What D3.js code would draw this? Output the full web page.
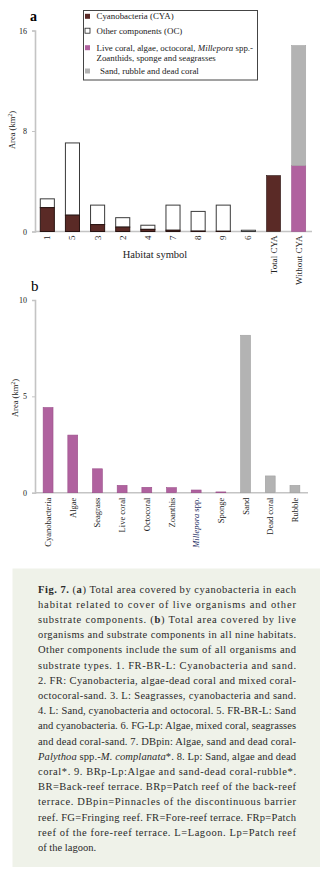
<!DOCTYPE html>
<html>
<head>
<meta charset="utf-8">
<script src="https://cdn.jsdelivr.net/npm/d3@7"></script>
<style>
  body { margin: 0; background: #fff; }
  svg { display: block; font-family: "Liberation Serif", "DejaVu Serif", serif; }
</style>
</head>
<body>
<div id="chart"></div>
<script>
// ---- data: panel a ----
const habitatLabels = ['1', '5', '3', '2', '4', '7', '8', '9', '6'];
const cyaArea = [1.9, 1.3, 0.55, 0.35, 0.17, 0.1, 0.03, 0.02, 0];
const ocArea = [0.7, 5.75, 1.55, 0.75, 0.33, 2.0, 1.57, 2.08, 0.1];
const totalCyaArea = 4.45;
const withoutCyaLive = 5.25;
const withoutCyaSand = 9.55;
const yTicksA = [0, 8, 16];

// ---- data: panel b ----
const componentNames = ['Cyanobacteria', 'Algae', 'Seagrass', 'Live coral', 'Octocoral', 'Zoanthis',
  'Millepora spp.', 'Sponge', 'Sand', 'Dead coral', 'Rubble'];
const componentArea = [4.42, 2.99, 1.24, 0.38, 0.28, 0.26, 0.14, 0.04, 8.17, 0.87, 0.38];
const componentGroup = ['live', 'live', 'live', 'live', 'live', 'live', 'live', 'live', 'sub', 'sub', 'sub'];
const yTicksB = [0, 5, 10];

const legendItems = [
  { key: 'cya', lines: ['Cyanobacteria (CYA)'] },
  { key: 'oc', lines: ['Other components (OC)'] },
  { key: 'live', lines: ['Live coral, algae, octocoral, |Millepora| spp.-', 'Zoanthids, sponge and seagrasses'] },
  { key: 'sub', lines: ['Sand, rubble and dead coral'] }
];

// caption lines; *...* italic, **...** bold
const captionLines = [
  '**Fig. 7.** (**a**) Total area covered by cyanobacteria in each',
  'habitat related to cover of live organisms and other',
  'substrate components. (**b**) Total area covered by live',
  'organisms and substrate components in all nine habitats.',
  'Other components include the sum of all organisms and',
  'substrate types. 1. FR-BR-L: Cyanobacteria and sand.',
  '2. FR: Cyanobacteria, algae-dead coral and mixed coral-',
  'octocoral-sand. 3. L: Seagrasses, cyanobacteria and sand.',
  '4. L: Sand, cyanobacteria and octocoral. 5. FR-BR-L: Sand',
  'and cyanobacteria. 6. FG-Lp: Algae, mixed coral, seagrasses',
  'and dead coral-sand. 7. DBpin: Algae, sand and dead coral-',
  '*Palythoa* spp.-*M. complanata**. 8. Lp: Sand, algae and dead',
  'coral*. 9. BRp-Lp:Algae and sand-dead coral-rubble*.',
  'BR=Back-reef terrace. BRp=Patch reef of the back-reef',
  'terrace. DBpin=Pinnacles of the discontinuous barrier',
  'reef. FG=Fringing reef. FR=Fore-reef terrace. FRp=Patch',
  'reef of the fore-reef terrace. L=Lagoon. Lp=Patch reef',
  'of the lagoon.'
];

const colors = { cya: '#5a2a26', oc: '#ffffff', live: '#b0629f', sub: '#b3b3b3' };
const axisColor = '#c4c4c4';

const W = 320, H = 873;
const svg = d3.select('#chart').append('svg').attr('width', W).attr('height', H);

// helper: y axis with light line
const drawYAxis = (g, y, ticks, x0) => {
  const ax = g.append('g')
    .attr('transform', `translate(${x0},0)`)
    .call(d3.axisLeft(y).tickValues(ticks).tickSize(3).tickPadding(5).tickFormat(d3.format('d')));
  ax.select('.domain').attr('stroke', axisColor).attr('stroke-width', 1.6);
  ax.selectAll('line').attr('stroke', axisColor);
  ax.selectAll('text').attr('font-family', '"Liberation Serif", serif').attr('font-size', 8).attr('fill', '#222');
};

// ================= panel a =================
const catsA = [...habitatLabels, 'Total CYA', 'Without CYA'];
const xA = d3.scaleBand().domain(catsA).range([34, 312]).paddingInner(0.44).paddingOuter(0.25);
const yA = d3.scaleLinear().domain([0, 16]).range([231.5, 30.5]);
const gA = svg.append('g');

gA.append('text').attr('x', 30).attr('y', 21).attr('font-size', 14).attr('font-weight', 'bold').text('a');

drawYAxis(gA, yA, yTicksA, 35);
gA.append('line').attr('x1', 35).attr('x2', 312).attr('y1', yA(0)).attr('y2', yA(0))
  .attr('stroke', axisColor).attr('stroke-width', 1.6);

// stacked habitat bars
const stackA = habitatLabels.map((h, i) => ({ cat: h, cya: cyaArea[i], oc: ocArea[i] }));
const barsA = gA.append('g').selectAll('g').data(stackA).enter().append('g');
barsA.append('rect')
  .attr('x', d => xA(d.cat)).attr('width', xA.bandwidth())
  .attr('y', d => yA(d.cya + d.oc)).attr('height', d => yA(d.cya) - yA(d.cya + d.oc))
  .attr('fill', colors.oc).attr('stroke', '#3a3a3a').attr('stroke-width', 1);
barsA.filter(d => d.cya > 0).append('rect')
  .attr('x', d => xA(d.cat)).attr('width', xA.bandwidth())
  .attr('y', d => yA(d.cya)).attr('height', d => yA(0) - yA(d.cya))
  .attr('fill', colors.cya).attr('stroke', '#2a1412').attr('stroke-width', 1);

// total CYA bar
gA.append('rect')
  .attr('x', xA('Total CYA')).attr('width', xA.bandwidth())
  .attr('y', yA(totalCyaArea)).attr('height', yA(0) - yA(totalCyaArea))
  .attr('fill', colors.cya).attr('stroke', '#2a1412').attr('stroke-width', 0.6);

// without CYA stacked bar
gA.append('rect')
  .attr('x', xA('Without CYA')).attr('width', xA.bandwidth())
  .attr('y', yA(withoutCyaLive)).attr('height', yA(0) - yA(withoutCyaLive))
  .attr('fill', colors.live).attr('stroke', '#9a4f8a').attr('stroke-width', 0.6);
gA.append('rect')
  .attr('x', xA('Without CYA')).attr('width', xA.bandwidth())
  .attr('y', yA(withoutCyaLive + withoutCyaSand)).attr('height', yA(withoutCyaLive) - yA(withoutCyaLive + withoutCyaSand))
  .attr('fill', colors.sub).attr('stroke', '#a5a5a5').attr('stroke-width', 0.6);

// x labels (rotated)
gA.append('g').selectAll('text').data(catsA).enter().append('text')
  .attr('transform', d => `translate(${xA(d) + xA.bandwidth() / 2 + 3},${yA(0) + 4}) rotate(-90)`)
  .attr('text-anchor', 'end').attr('font-size', 9).attr('fill', '#222')
  .text(d => d);

gA.append('text').attr('x', 155).attr('y', 258).attr('text-anchor', 'middle')
  .attr('font-size', 10.5).attr('fill', '#222').text('Habitat symbol');

const yLabA = gA.append('text').attr('transform', `translate(15,130) rotate(-90)`)
  .attr('text-anchor', 'middle').attr('font-size', 8.5).attr('fill', '#222');
yLabA.append('tspan').text('Area (km');
yLabA.append('tspan').attr('font-size', 6).attr('dy', -3).text('2');
yLabA.append('tspan').attr('dy', 3).text(')');

// legend
const lg = gA.append('g');
lg.append('rect').attr('x', 83.5).attr('y', 10.5).attr('width', 174).attr('height', 69.5)
  .attr('fill', '#fff').attr('stroke', '#444').attr('stroke-width', 1);
const legendRows = [16.3, 30.7, 47.7, 71];
legendItems.forEach((item, i) => {
  const cy = legendRows[i];
  lg.append('rect').attr('x', 85).attr('y', cy - 2.5).attr('width', 5).attr('height', 5)
    .attr('fill', colors[item.key])
    .attr('stroke', item.key === 'oc' ? '#222' : 'none').attr('stroke-width', 0.8);
  item.lines.forEach((ln, j) => {
    const t = lg.append('text').attr('x', item.key === 'sub' ? 100 : 96.5).attr('y', cy + 3 + j * 10)
      .attr('font-size', 8.9).attr('fill', '#222');
    ln.split('|').forEach((part, k) => {
      t.append('tspan').attr('font-style', k % 2 ? 'italic' : 'normal').text(part);
    });
  });
});

// ================= panel b =================
const xB = d3.scaleBand().domain(componentNames).range([35, 308]).paddingInner(0.6).paddingOuter(0.33);
const yB = d3.scaleLinear().domain([0, 10]).range([492.7, 300]);
const gB = svg.append('g');

gB.append('text').attr('x', 31).attr('y', 291).attr('font-size', 15).text('b');

drawYAxis(gB, yB, yTicksB, 35);
gB.append('line').attr('x1', 35).attr('x2', 308).attr('y1', yB(0)).attr('y2', yB(0))
  .attr('stroke', axisColor).attr('stroke-width', 1.6);

const dataB = componentNames.map((n, i) => ({ name: n, value: componentArea[i], group: componentGroup[i] }));
gB.append('g').selectAll('rect').data(dataB).enter().append('rect')
  .attr('x', d => xB(d.name)).attr('width', xB.bandwidth())
  .attr('y', d => yB(d.value)).attr('height', d => yB(0) - yB(d.value))
  .attr('fill', d => colors[d.group])
  .attr('stroke', d => d.group === 'live' ? '#9a4f8a' : '#a0a0a0').attr('stroke-width', 0.6);

gB.append('g').selectAll('text').data(dataB).enter().append('text')
  .attr('transform', d => `translate(${xB(d.name) + xB.bandwidth() / 2 + 3},${yB(0) + 5}) rotate(-90)`)
  .attr('text-anchor', 'end').attr('font-size', 8.5)
  .attr('fill', d => d.name.startsWith('Millepora') ? '#1f2f66' : '#222')
  .each(function (d) {
    const t = d3.select(this);
    if (d.name.startsWith('Millepora')) {
      t.append('tspan').attr('font-style', 'italic').text('Millepora');
      t.append('tspan').text(' spp.');
    } else {
      t.text(d.name);
    }
  });

const yLabB = gB.append('text').attr('transform', `translate(18,398) rotate(-90)`)
  .attr('text-anchor', 'middle').attr('font-size', 8.5).attr('fill', '#222');
yLabB.append('tspan').text('Area (km');
yLabB.append('tspan').attr('font-size', 6).attr('dy', -3).text('2');
yLabB.append('tspan').attr('dy', 3).text(')');

// ================= caption =================
const cap = svg.append('g');
cap.append('rect').attr('x', 12.5).attr('y', 568.5).attr('width', 320).attr('height', 298.5)
  .attr('fill', '#eff2e9');
const capX0 = 38, capX1 = 296, capY0 = 592.5, capStep = 15.2;
captionLines.forEach((ln, i) => {
  const t = cap.append('text').attr('x', capX0).attr('y', capY0 + i * capStep)
    .attr('font-size', 10.5).attr('fill', '#2a2a2a');
  if (i < captionLines.length - 1) {
    t.attr('textLength', capX1 - capX0).attr('lengthAdjust', 'spacing');
  }
  // parse **bold** and *italic*
  const parts = ln.split(/(\*\*[^*]+\*\*|\*[A-Za-z][^*]*\*)/);
  parts.forEach(p => {
    if (!p) return;
    if (p.startsWith('**')) t.append('tspan').attr('font-weight', 'bold').text(p.slice(2, -2));
    else if (/^\*[A-Za-z]/.test(p)) t.append('tspan').attr('font-style', 'italic').text(p.slice(1, -1));
    else t.append('tspan').text(p);
  });
});
</script>
</body>
</html>
